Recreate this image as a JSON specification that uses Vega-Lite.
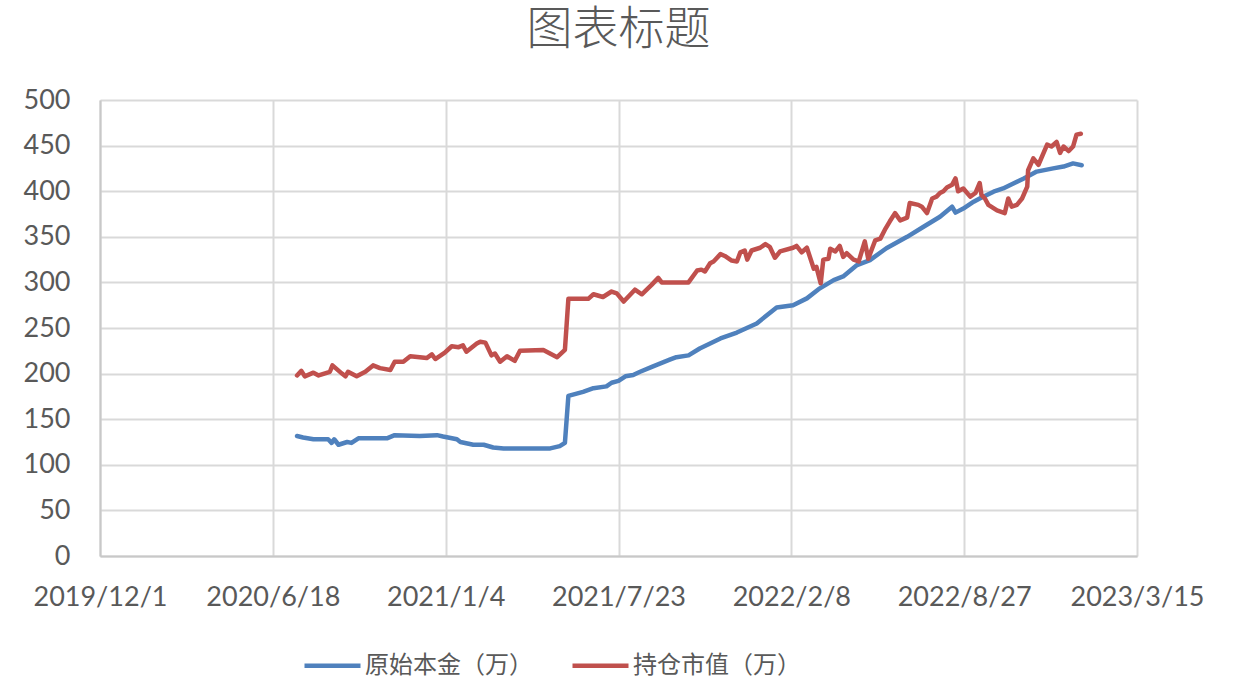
{
  "$schema": "https://vega.github.io/schema/vega-lite/v6.json",
  "width": 1037,
  "height": 456,
  "autosize": "none",
  "padding": {"left": 100, "top": 100, "right": 102, "bottom": 131},
  "background": "white",
  "title": {
    "text": "图表标题",
    "font": "Noto Sans CJK SC",
    "fontSize": 46,
    "fontWeight": 300,
    "color": "#595959",
    "anchor": "middle",
    "frame": "group",
    "offset": 32
  },
  "config": {
    "view": {"stroke": null},
    "axis": {
      "labelFont": "Lato",
      "labelFontSize": 27,
      "labelColor": "#595959",
      "gridColor": "#D9D9D9",
      "gridWidth": 2,
      "domainColor": "#C8C8C8",
      "domainWidth": 2,
      "ticks": false,
      "title": null
    }
  },
  "data": {
    "values": [
      {"date": "2020-07-16", "series": "原始本金（万）", "value": 131.6},
      {"date": "2020-07-23", "series": "原始本金（万）", "value": 130},
      {"date": "2020-08-04", "series": "原始本金（万）", "value": 128},
      {"date": "2020-08-21", "series": "原始本金（万）", "value": 128},
      {"date": "2020-08-25", "series": "原始本金（万）", "value": 124},
      {"date": "2020-08-28", "series": "原始本金（万）", "value": 128},
      {"date": "2020-09-02", "series": "原始本金（万）", "value": 122},
      {"date": "2020-09-12", "series": "原始本金（万）", "value": 125},
      {"date": "2020-09-17", "series": "原始本金（万）", "value": 124},
      {"date": "2020-09-25", "series": "原始本金（万）", "value": 129},
      {"date": "2020-10-28", "series": "原始本金（万）", "value": 129},
      {"date": "2020-11-06", "series": "原始本金（万）", "value": 132.5},
      {"date": "2020-12-05", "series": "原始本金（万）", "value": 131.5},
      {"date": "2020-12-25", "series": "原始本金（万）", "value": 132.5},
      {"date": "2021-01-01", "series": "原始本金（万）", "value": 131},
      {"date": "2021-01-17", "series": "原始本金（万）", "value": 128},
      {"date": "2021-01-21", "series": "原始本金（万）", "value": 125},
      {"date": "2021-02-05", "series": "原始本金（万）", "value": 122},
      {"date": "2021-02-17", "series": "原始本金（万）", "value": 122},
      {"date": "2021-02-28", "series": "原始本金（万）", "value": 119},
      {"date": "2021-03-12", "series": "原始本金（万）", "value": 118},
      {"date": "2021-05-05", "series": "原始本金（万）", "value": 118},
      {"date": "2021-05-16", "series": "原始本金（万）", "value": 120.5},
      {"date": "2021-05-22", "series": "原始本金（万）", "value": 124},
      {"date": "2021-05-26", "series": "原始本金（万）", "value": 175.5},
      {"date": "2021-06-12", "series": "原始本金（万）", "value": 180},
      {"date": "2021-06-24", "series": "原始本金（万）", "value": 184},
      {"date": "2021-07-09", "series": "原始本金（万）", "value": 186},
      {"date": "2021-07-15", "series": "原始本金（万）", "value": 190},
      {"date": "2021-07-23", "series": "原始本金（万）", "value": 192},
      {"date": "2021-07-31", "series": "原始本金（万）", "value": 197},
      {"date": "2021-08-09", "series": "原始本金（万）", "value": 198.5},
      {"date": "2021-08-17", "series": "原始本金（万）", "value": 202},
      {"date": "2021-09-01", "series": "原始本金（万）", "value": 208},
      {"date": "2021-09-21", "series": "原始本金（万）", "value": 215.5},
      {"date": "2021-09-28", "series": "原始本金（万）", "value": 218},
      {"date": "2021-10-12", "series": "原始本金（万）", "value": 220},
      {"date": "2021-10-25", "series": "原始本金（万）", "value": 227.5},
      {"date": "2021-11-18", "series": "原始本金（万）", "value": 238.5},
      {"date": "2021-12-07", "series": "原始本金（万）", "value": 245},
      {"date": "2021-12-30", "series": "原始本金（万）", "value": 255},
      {"date": "2022-01-22", "series": "原始本金（万）", "value": 272.5},
      {"date": "2022-02-10", "series": "原始本金（万）", "value": 275},
      {"date": "2022-02-26", "series": "原始本金（万）", "value": 282.5},
      {"date": "2022-03-13", "series": "原始本金（万）", "value": 293.5},
      {"date": "2022-03-29", "series": "原始本金（万）", "value": 302.5},
      {"date": "2022-04-09", "series": "原始本金（万）", "value": 306.5},
      {"date": "2022-04-25", "series": "原始本金（万）", "value": 319},
      {"date": "2022-05-10", "series": "原始本金（万）", "value": 324.5},
      {"date": "2022-05-29", "series": "原始本金（万）", "value": 337.5},
      {"date": "2022-06-22", "series": "原始本金（万）", "value": 350},
      {"date": "2022-07-11", "series": "原始本金（万）", "value": 361},
      {"date": "2022-07-30", "series": "原始本金（万）", "value": 372},
      {"date": "2022-08-13", "series": "原始本金（万）", "value": 383},
      {"date": "2022-08-17", "series": "原始本金（万）", "value": 376.5},
      {"date": "2022-08-26", "series": "原始本金（万）", "value": 381},
      {"date": "2022-09-07", "series": "原始本金（万）", "value": 388.5},
      {"date": "2022-09-14", "series": "原始本金（万）", "value": 392},
      {"date": "2022-09-30", "series": "原始本金（万）", "value": 399.5},
      {"date": "2022-10-11", "series": "原始本金（万）", "value": 403},
      {"date": "2022-11-04", "series": "原始本金（万）", "value": 414},
      {"date": "2022-11-19", "series": "原始本金（万）", "value": 421.5},
      {"date": "2022-12-08", "series": "原始本金（万）", "value": 425},
      {"date": "2022-12-20", "series": "原始本金（万）", "value": 427},
      {"date": "2022-12-31", "series": "原始本金（万）", "value": 430.5},
      {"date": "2023-01-10", "series": "原始本金（万）", "value": 428.5},
      {"date": "2020-07-16", "series": "持仓市值（万）", "value": 198},
      {"date": "2020-07-21", "series": "持仓市值（万）", "value": 203},
      {"date": "2020-07-25", "series": "持仓市值（万）", "value": 197},
      {"date": "2020-08-04", "series": "持仓市值（万）", "value": 201},
      {"date": "2020-08-10", "series": "持仓市值（万）", "value": 198},
      {"date": "2020-08-23", "series": "持仓市值（万）", "value": 202},
      {"date": "2020-08-26", "series": "持仓市值（万）", "value": 209},
      {"date": "2020-09-06", "series": "持仓市值（万）", "value": 200},
      {"date": "2020-09-10", "series": "持仓市值（万）", "value": 197},
      {"date": "2020-09-13", "series": "持仓市值（万）", "value": 202},
      {"date": "2020-09-23", "series": "持仓市值（万）", "value": 197},
      {"date": "2020-10-03", "series": "持仓市值（万）", "value": 202},
      {"date": "2020-10-12", "series": "持仓市值（万）", "value": 209},
      {"date": "2020-10-20", "series": "持仓市值（万）", "value": 206},
      {"date": "2020-11-01", "series": "持仓市值（万）", "value": 204},
      {"date": "2020-11-06", "series": "持仓市值（万）", "value": 213},
      {"date": "2020-11-16", "series": "持仓市值（万）", "value": 213},
      {"date": "2020-11-24", "series": "持仓市值（万）", "value": 219},
      {"date": "2020-12-05", "series": "持仓市值（万）", "value": 218},
      {"date": "2020-12-13", "series": "持仓市值（万）", "value": 217},
      {"date": "2020-12-19", "series": "持仓市值（万）", "value": 221},
      {"date": "2020-12-23", "series": "持仓市值（万）", "value": 216},
      {"date": "2021-01-03", "series": "持仓市值（万）", "value": 223},
      {"date": "2021-01-11", "series": "持仓市值（万）", "value": 230},
      {"date": "2021-01-19", "series": "持仓市值（万）", "value": 229},
      {"date": "2021-01-24", "series": "持仓市值（万）", "value": 231},
      {"date": "2021-01-28", "series": "持仓市值（万）", "value": 224},
      {"date": "2021-02-09", "series": "持仓市值（万）", "value": 233},
      {"date": "2021-02-13", "series": "持仓市值（万）", "value": 235},
      {"date": "2021-02-19", "series": "持仓市值（万）", "value": 234},
      {"date": "2021-02-26", "series": "持仓市值（万）", "value": 220},
      {"date": "2021-03-02", "series": "持仓市值（万）", "value": 222},
      {"date": "2021-03-08", "series": "持仓市值（万）", "value": 213},
      {"date": "2021-03-16", "series": "持仓市值（万）", "value": 219},
      {"date": "2021-03-25", "series": "持仓市值（万）", "value": 214},
      {"date": "2021-03-31", "series": "持仓市值（万）", "value": 225},
      {"date": "2021-04-27", "series": "持仓市值（万）", "value": 226},
      {"date": "2021-05-13", "series": "持仓市值（万）", "value": 218},
      {"date": "2021-05-22", "series": "持仓市值（万）", "value": 226},
      {"date": "2021-05-26", "series": "持仓市值（万）", "value": 282},
      {"date": "2021-06-18", "series": "持仓市值（万）", "value": 282},
      {"date": "2021-06-24", "series": "持仓市值（万）", "value": 287},
      {"date": "2021-07-05", "series": "持仓市值（万）", "value": 284},
      {"date": "2021-07-15", "series": "持仓市值（万）", "value": 290},
      {"date": "2021-07-21", "series": "持仓市值（万）", "value": 288},
      {"date": "2021-07-29", "series": "持仓市值（万）", "value": 279},
      {"date": "2021-08-11", "series": "持仓市值（万）", "value": 292},
      {"date": "2021-08-19", "series": "持仓市值（万）", "value": 287},
      {"date": "2021-08-30", "series": "持仓市值（万）", "value": 297},
      {"date": "2021-09-07", "series": "持仓市值（万）", "value": 305},
      {"date": "2021-09-11", "series": "持仓市值（万）", "value": 300},
      {"date": "2021-09-21", "series": "持仓市值（万）", "value": 300},
      {"date": "2021-10-12", "series": "持仓市值（万）", "value": 300},
      {"date": "2021-10-22", "series": "持仓市值（万）", "value": 313},
      {"date": "2021-10-27", "series": "持仓市值（万）", "value": 314},
      {"date": "2021-10-31", "series": "持仓市值（万）", "value": 312},
      {"date": "2021-11-06", "series": "持仓市值（万）", "value": 321},
      {"date": "2021-11-10", "series": "持仓市值（万）", "value": 323},
      {"date": "2021-11-18", "series": "持仓市值（万）", "value": 331},
      {"date": "2021-11-23", "series": "持仓市值（万）", "value": 329},
      {"date": "2021-12-01", "series": "持仓市值（万）", "value": 324},
      {"date": "2021-12-07", "series": "持仓市值（万）", "value": 323},
      {"date": "2021-12-11", "series": "持仓市值（万）", "value": 333},
      {"date": "2021-12-16", "series": "持仓市值（万）", "value": 335},
      {"date": "2021-12-19", "series": "持仓市值（万）", "value": 325},
      {"date": "2021-12-24", "series": "持仓市值（万）", "value": 335},
      {"date": "2022-01-03", "series": "持仓市值（万）", "value": 338},
      {"date": "2022-01-09", "series": "持仓市值（万）", "value": 342},
      {"date": "2022-01-14", "series": "持仓市值（万）", "value": 339},
      {"date": "2022-01-20", "series": "持仓市值（万）", "value": 327},
      {"date": "2022-01-26", "series": "持仓市值（万）", "value": 334},
      {"date": "2022-02-10", "series": "持仓市值（万）", "value": 338},
      {"date": "2022-02-14", "series": "持仓市值（万）", "value": 340},
      {"date": "2022-02-20", "series": "持仓市值（万）", "value": 333},
      {"date": "2022-02-26", "series": "持仓市值（万）", "value": 338},
      {"date": "2022-03-06", "series": "持仓市值（万）", "value": 315},
      {"date": "2022-03-09", "series": "持仓市值（万）", "value": 317},
      {"date": "2022-03-14", "series": "持仓市值（万）", "value": 299},
      {"date": "2022-03-17", "series": "持仓市值（万）", "value": 325},
      {"date": "2022-03-23", "series": "持仓市值（万）", "value": 326},
      {"date": "2022-03-25", "series": "持仓市值（万）", "value": 337},
      {"date": "2022-03-31", "series": "持仓市值（万）", "value": 334},
      {"date": "2022-04-05", "series": "持仓市值（万）", "value": 340},
      {"date": "2022-04-09", "series": "持仓市值（万）", "value": 328},
      {"date": "2022-04-13", "series": "持仓市值（万）", "value": 332},
      {"date": "2022-04-21", "series": "持仓市值（万）", "value": 325},
      {"date": "2022-04-27", "series": "持仓市值（万）", "value": 323},
      {"date": "2022-05-04", "series": "持仓市值（万）", "value": 345},
      {"date": "2022-05-08", "series": "持仓市值（万）", "value": 326},
      {"date": "2022-05-16", "series": "持仓市值（万）", "value": 346},
      {"date": "2022-05-22", "series": "持仓市值（万）", "value": 348},
      {"date": "2022-05-28", "series": "持仓市值（万）", "value": 359},
      {"date": "2022-06-02", "series": "持仓市值（万）", "value": 367},
      {"date": "2022-06-08", "series": "持仓市值（万）", "value": 376},
      {"date": "2022-06-14", "series": "持仓市值（万）", "value": 368},
      {"date": "2022-06-22", "series": "持仓市值（万）", "value": 371},
      {"date": "2022-06-25", "series": "持仓市值（万）", "value": 387},
      {"date": "2022-07-05", "series": "持仓市值（万）", "value": 385},
      {"date": "2022-07-09", "series": "持仓市值（万）", "value": 383},
      {"date": "2022-07-15", "series": "持仓市值（万）", "value": 376},
      {"date": "2022-07-21", "series": "持仓市值（万）", "value": 392},
      {"date": "2022-07-26", "series": "持仓市值（万）", "value": 394},
      {"date": "2022-07-30", "series": "持仓市值（万）", "value": 398},
      {"date": "2022-08-03", "series": "持仓市值（万）", "value": 400},
      {"date": "2022-08-07", "series": "持仓市值（万）", "value": 404},
      {"date": "2022-08-13", "series": "持仓市值（万）", "value": 407},
      {"date": "2022-08-17", "series": "持仓市值（万）", "value": 414},
      {"date": "2022-08-20", "series": "持仓市值（万）", "value": 400},
      {"date": "2022-08-26", "series": "持仓市值（万）", "value": 403},
      {"date": "2022-09-03", "series": "持仓市值（万）", "value": 394},
      {"date": "2022-09-09", "series": "持仓市值（万）", "value": 398},
      {"date": "2022-09-14", "series": "持仓市值（万）", "value": 409},
      {"date": "2022-09-16", "series": "持仓市值（万）", "value": 396},
      {"date": "2022-09-20", "series": "持仓市值（万）", "value": 392},
      {"date": "2022-09-24", "series": "持仓市值（万）", "value": 385},
      {"date": "2022-10-04", "series": "持仓市值（万）", "value": 379},
      {"date": "2022-10-13", "series": "持仓市值（万）", "value": 376},
      {"date": "2022-10-17", "series": "持仓市值（万）", "value": 392},
      {"date": "2022-10-21", "series": "持仓市值（万）", "value": 383},
      {"date": "2022-10-27", "series": "持仓市值（万）", "value": 385},
      {"date": "2022-11-02", "series": "持仓市值（万）", "value": 392},
      {"date": "2022-11-08", "series": "持仓市值（万）", "value": 405},
      {"date": "2022-11-09", "series": "持仓市值（万）", "value": 423},
      {"date": "2022-11-15", "series": "持仓市值（万）", "value": 436},
      {"date": "2022-11-21", "series": "持仓市值（万）", "value": 429},
      {"date": "2022-12-01", "series": "持仓市值（万）", "value": 451},
      {"date": "2022-12-06", "series": "持仓市值（万）", "value": 449},
      {"date": "2022-12-12", "series": "持仓市值（万）", "value": 454},
      {"date": "2022-12-16", "series": "持仓市值（万）", "value": 442},
      {"date": "2022-12-20", "series": "持仓市值（万）", "value": 449},
      {"date": "2022-12-26", "series": "持仓市值（万）", "value": 444},
      {"date": "2022-12-31", "series": "持仓市值（万）", "value": 449},
      {"date": "2023-01-04", "series": "持仓市值（万）", "value": 462},
      {"date": "2023-01-09", "series": "持仓市值（万）", "value": 463}
    ]
  },
  "mark": {"type": "line", "strokeWidth": 4.5, "strokeJoin": "round", "strokeCap": "round"},
  "encoding": {
    "x": {
      "field": "date",
      "type": "temporal",
      "scale": {
        "type": "utc",
        "domain": [
          {"year": 2019, "month": 12, "date": 1, "utc": true},
          {"year": 2023, "month": 3, "date": 15, "utc": true}
        ]
      },
      "axis": {
        "values": [
          {"year": 2019, "month": 12, "date": 1, "utc": true},
          {"year": 2020, "month": 6, "date": 18, "utc": true},
          {"year": 2021, "month": 1, "date": 4, "utc": true},
          {"year": 2021, "month": 7, "date": 23, "utc": true},
          {"year": 2022, "month": 2, "date": 8, "utc": true},
          {"year": 2022, "month": 8, "date": 27, "utc": true},
          {"year": 2023, "month": 3, "date": 15, "utc": true}
        ],
        "format": "%Y/%-m/%-d",
        "labelPadding": 28,
        "labelFlush": false,
        "labelOverlap": false
      }
    },
    "y": {
      "field": "value",
      "type": "quantitative",
      "scale": {"domain": [0, 500], "nice": false},
      "axis": {
        "values": [0, 50, 100, 150, 200, 250, 300, 350, 400, 450, 500],
        "labelPadding": 30
      }
    },
    "color": {
      "field": "series",
      "type": "nominal",
      "sort": ["原始本金（万）", "持仓市值（万）"],
      "scale": {"domain": ["原始本金（万）", "持仓市值（万）"], "range": ["#4F81BD", "#C0504D"]},
      "legend": {
        "title": null,
        "orient": "none",
        "direction": "horizontal",
        "legendX": 202,
        "legendY": 535,
        "padding": 0,
        "symbolType": "stroke",
        "symbolSize": 3136,
        "symbolStrokeWidth": 4.5,
        "labelFont": "Noto Sans CJK SC",
        "labelFontSize": 24,
        "labelColor": "#595959",
        "labelOffset": 2,
        "labelLimit": 400,
        "columnPadding": 30
      }
    }
  }
}
